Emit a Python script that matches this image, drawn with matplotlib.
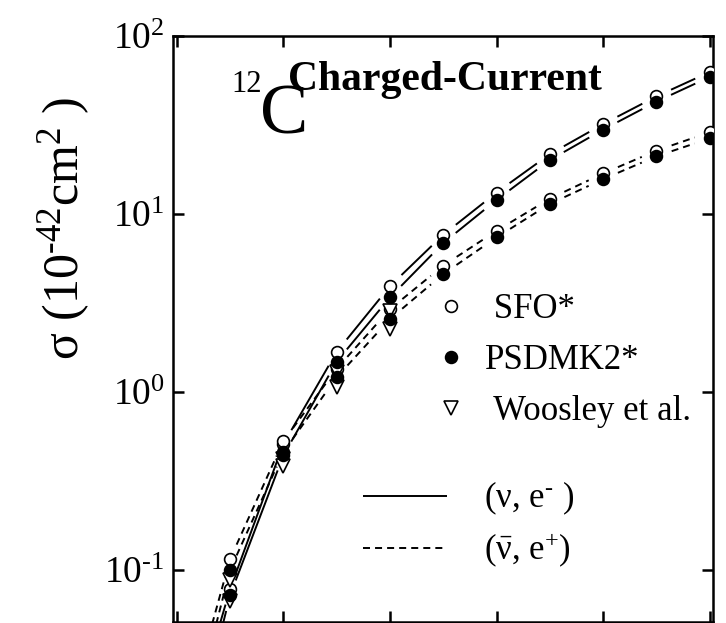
import numpy as np
import matplotlib
matplotlib.use("Agg")
import matplotlib.pyplot as plt
from matplotlib.lines import Line2D
from matplotlib.ticker import NullLocator, FixedLocator

plt.rcParams['font.family'] = ['Liberation Serif', 'DejaVu Serif']
plt.rcParams['mathtext.fontset'] = 'custom'
plt.rcParams['mathtext.rm'] = 'Liberation Serif'
plt.rcParams['mathtext.it'] = 'Liberation Serif:italic'
plt.rcParams['mathtext.bf'] = 'Liberation Serif:bold'
plt.rcParams['mathtext.default'] = 'regular'
plt.rcParams['axes.unicode_minus'] = False

# temperature grid (MeV) of the folded cross sections
T = np.arange(1, 11)
T_start = 0.5          # curves start here, below the plotted range

# cross sections in 10^-42 cm^2
sfo_nu = [0.078, 0.51, 1.68, 3.93, 7.65, 13.2, 21.7, 32.0, 45.8, 62.8]
psd_nu = [0.072, 0.44, 1.48, 3.40, 6.87, 12.0, 20.1, 29.8, 42.8, 58.9]
sfo_nubar = [0.115, 0.53, 1.35, 2.92, 5.13, 8.05, 12.2, 16.9, 22.7, 28.8]
psd_nubar = [0.100, 0.46, 1.21, 2.57, 4.60, 7.39, 11.4, 15.7, 21.1, 26.6]
start_vals = {'sfo_nu': 0.024, 'psd_nu': 0.018, 'sfo_nubar': 0.033, 'psd_nubar': 0.026}

T_woos = np.arange(1, 5)
woos_nu = [0.067, 0.42, 1.30, 2.85]
woos_nubar = [0.088, 0.383, 1.06, 2.26]

ytick_vals = [0.1, 1, 10, 100]
ytick_text = ['10$^{\\text{-}1}$', '10$^{0}$', '10$^{1}$', '10$^{2}$']

fig = plt.figure(figsize=(7.26, 6.23), dpi=100)
ax = fig.add_axes([173/726, 1/623, 540/726, 586/623])
ax.set_yscale('log')
ax.set_xlim(-0.07, 10.06)
ax.set_ylim(10**(2 - 586/178), 100)

solid = dict(color='black', lw=1.4, solid_capstyle='butt')
dashed = dict(color='black', lw=1.4, dashes=(3.6, 2.6))


def gapped_curve(x, y, style, gap=16.0):
    # draw segment by segment, leaving a gap around every marker
    pts = ax.transData.transform(np.column_stack([x, y]))
    inv = ax.transData.inverted()
    for i in range(len(pts) - 1):
        p0, p1 = pts[i], pts[i + 1]
        d = p1 - p0
        u = d / np.hypot(*d)
        a = p0 + u * (gap if i > 0 else 0.0)
        b = p1 - u * gap
        seg = inv.transform(np.vstack([a, b]))
        ax.plot(seg[:, 0], seg[:, 1], zorder=2, **style)


xs = np.concatenate([[T_start], T])
gapped_curve(xs, [start_vals['sfo_nu']] + sfo_nu, solid)
gapped_curve(xs, [start_vals['psd_nu']] + psd_nu, solid)
gapped_curve(xs, [start_vals['sfo_nubar']] + sfo_nubar, dashed)
gapped_curve(xs, [start_vals['psd_nubar']] + psd_nubar, dashed)

open_kw = dict(ls='none', marker='o', ms=8.5, mfc='white', mec='black', mew=1.2)
fill_kw = dict(ls='none', marker='o', ms=8.5, mfc='black', mec='black', mew=1.2)
tri_kw = dict(ls='none', marker='v', ms=9.5, mfc='white', mec='black', mew=1.2)

ax.plot(T, sfo_nu, zorder=3, **open_kw)
ax.plot(T, sfo_nubar, zorder=3, **open_kw)
ax.plot(T_woos, woos_nu, zorder=4, **tri_kw)
ax.plot(T_woos, woos_nubar, zorder=4, **tri_kw)
ax.plot(T, psd_nu, zorder=5, **fill_kw)
ax.plot(T, psd_nubar, zorder=5, **fill_kw)

# axes frame and ticks
for sp in ax.spines.values():
    sp.set_linewidth(1.8)
ax.set_xticks(np.arange(0, 11, 2))
ax.yaxis.set_major_locator(FixedLocator(ytick_vals))
ax.set_yticklabels(ytick_text)
ax.yaxis.set_minor_locator(NullLocator())
ax.xaxis.set_minor_locator(NullLocator())
ax.tick_params(which='major', direction='in', length=8, width=1.8,
               top=True, right=True, labelbottom=False, labelsize=27, pad=6)

ax.set_ylabel('σ (10$^{\\text{-}42}$cm$^{2}$ )', fontsize=36)
ax.yaxis.set_label_coords(-0.150, 0.672)

ax.text(0.109, 0.904, '12', fontsize=22, transform=ax.transAxes,
        ha='left', va='baseline')
ax.text(0.162, 0.834, 'C', fontsize=52, transform=ax.transAxes,
        ha='left', va='baseline')
ax.text(0.213, 0.908, 'Charged-Current', fontsize=30, fontweight='bold',
        transform=ax.transAxes, ha='left', va='baseline')

# legends: model markers and reaction line styles
mk_handles = [Line2D([], [], **open_kw), Line2D([], [], **fill_kw),
              Line2D([], [], **tri_kw)]
leg1 = ax.legend(mk_handles, [' SFO*', 'PSDMK2*', ' Woosley et al.'],
                 loc='center left', bbox_to_anchor=(0.4826, 0.446),
                 frameon=False, fontsize=25, handlelength=1.0,
                 handletextpad=0.48, labelspacing=0.52, borderpad=0,
                 borderaxespad=0)
ax.add_artist(leg1)
ln_handles = [Line2D([], [], **solid), Line2D([], [], **dashed)]
ax.legend(ln_handles, ['(ν, e$^{\\text{-}}$ )', '($\\bar{ν}$, e$^{+}$)'],
          loc='center left', bbox_to_anchor=(0.352, 0.166),
          frameon=False, fontsize=25, handlelength=2.42,
          handletextpad=1.07, labelspacing=0.38, borderpad=0,
          borderaxespad=0)

fig.savefig('out.png', dpi=100)
